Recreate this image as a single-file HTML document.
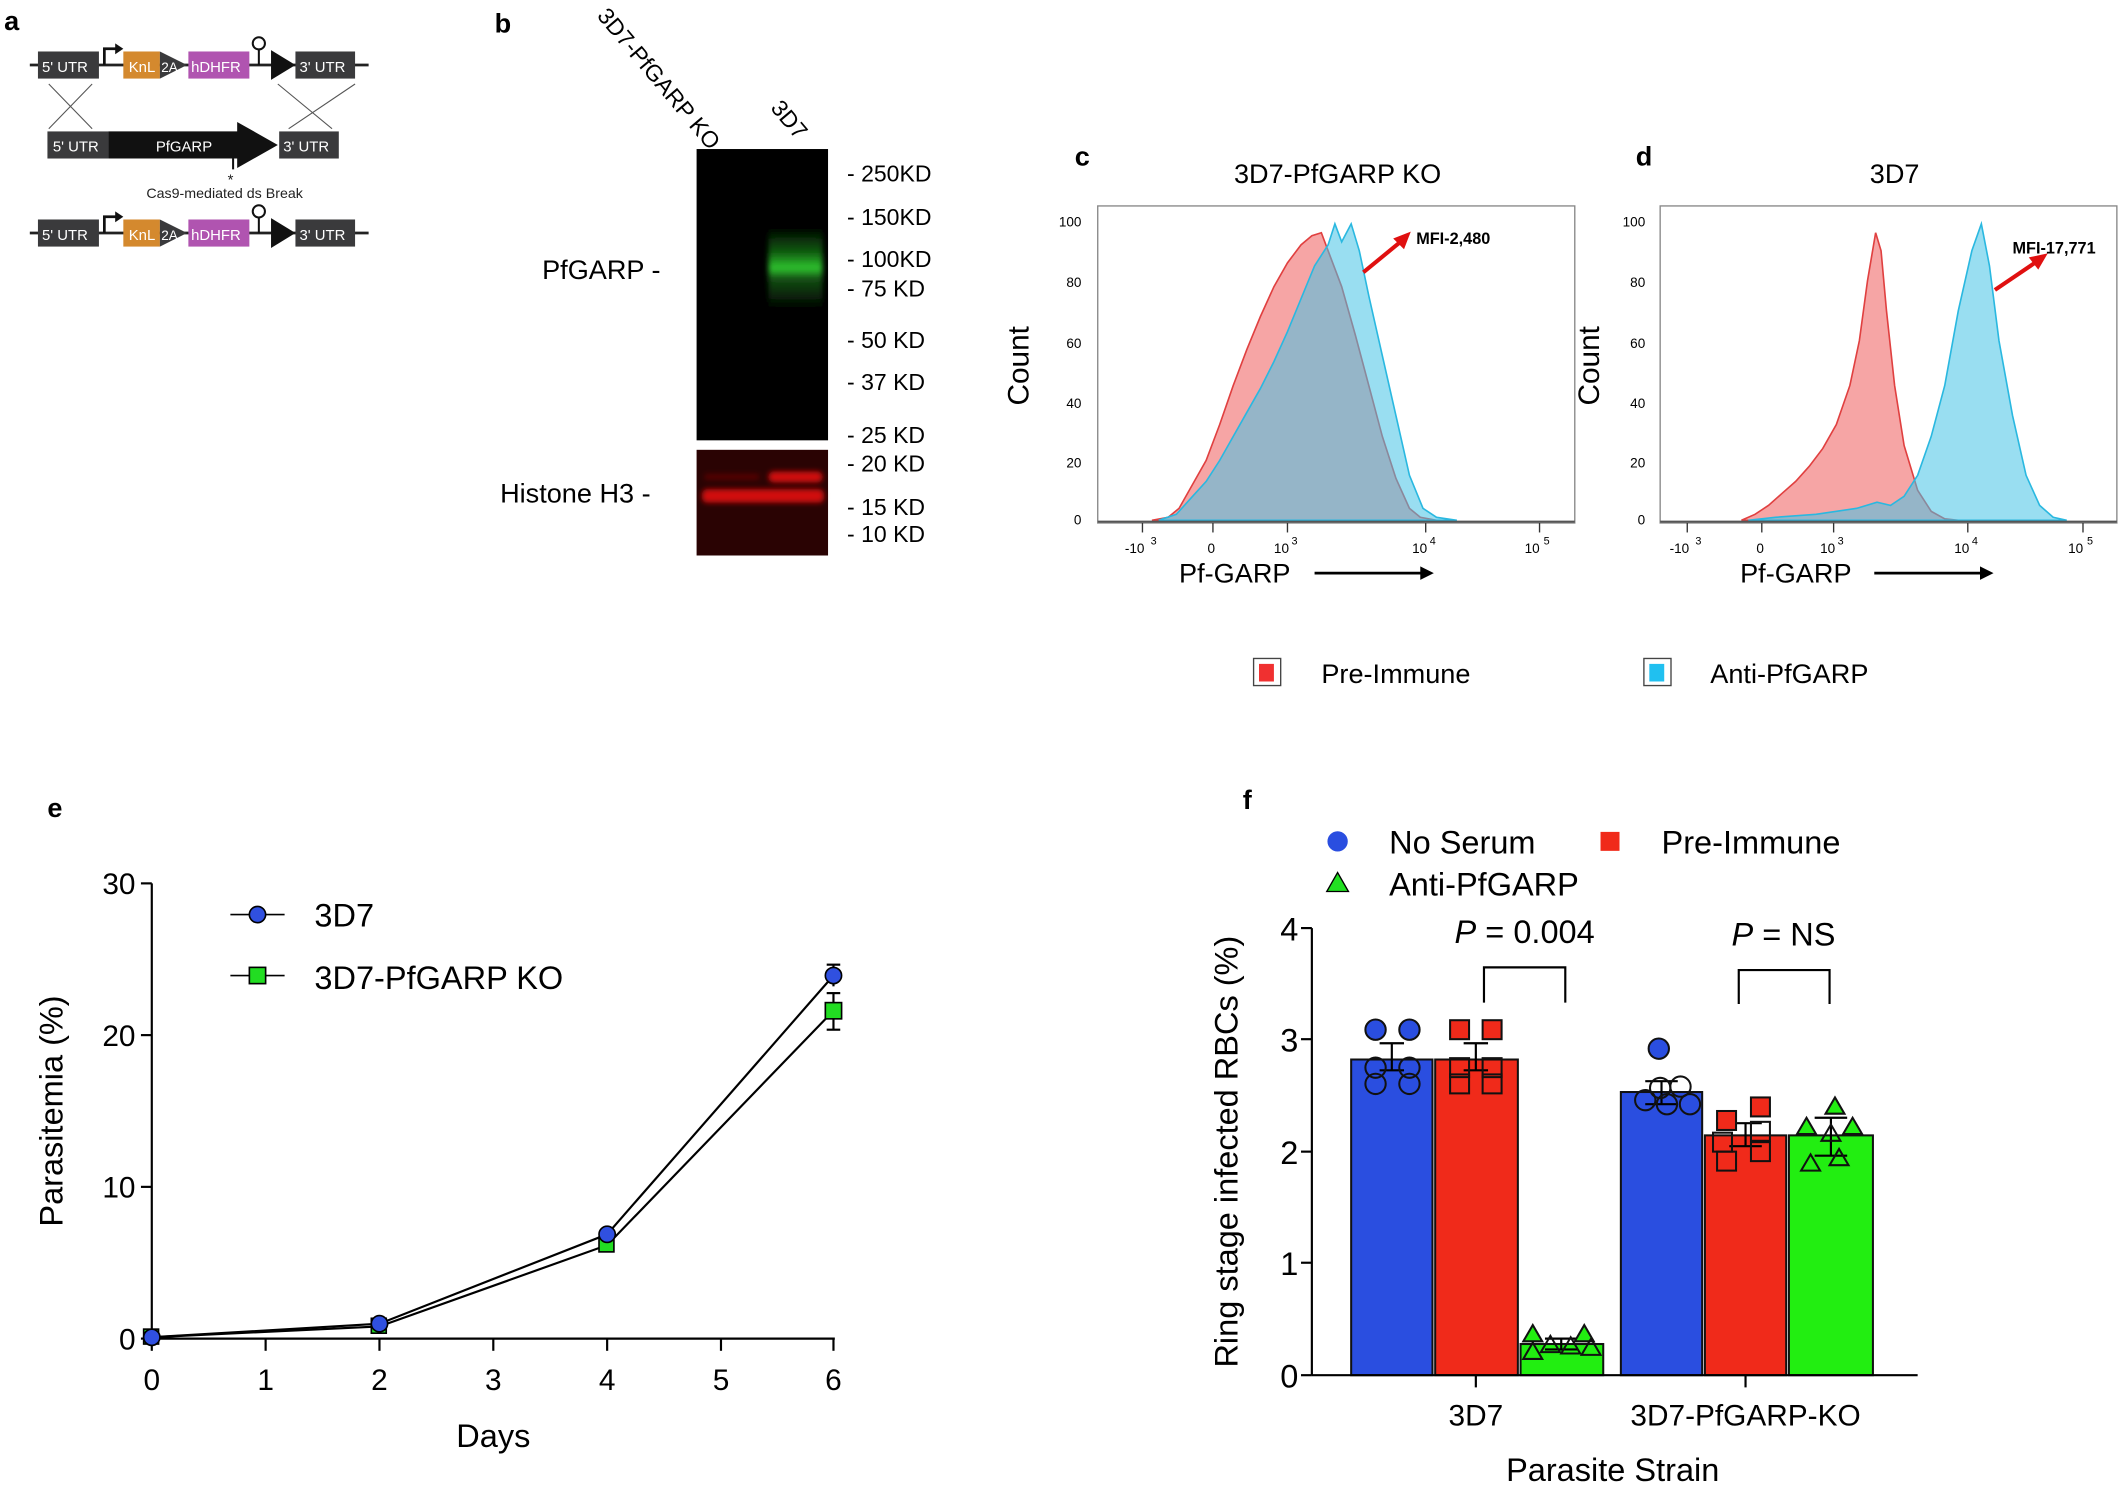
<!DOCTYPE html>
<html><head><meta charset="utf-8"><style>html,body{margin:0;padding:0;background:#fff}svg{display:block}text{font-family:"Liberation Sans",Arial,sans-serif}</style></head><body>
<svg width="2125" height="1489" viewBox="0 0 1568 1099" preserveAspectRatio="none" xmlns="http://www.w3.org/2000/svg">
<defs><filter id="bl" x="-20%" y="-50%" width="140%" height="200%"><feGaussianBlur stdDeviation="2"/></filter>
<linearGradient id="gb" x1="0" y1="0" x2="0" y2="1"><stop offset="0" stop-color="#000"/><stop offset="0.3" stop-color="#0f5a0f"/><stop offset="0.5" stop-color="#2fc42f"/><stop offset="0.62" stop-color="#145014"/><stop offset="1" stop-color="#000"/></linearGradient></defs>
<rect width="1568" height="1099" fill="#fff"/>
<text x="3" y="22" font-size="20" font-weight="bold">a</text>
<g font-size="11" fill="#fff">
<line x1="22" y1="48" x2="272" y2="48" stroke="#222" stroke-width="2"/>
<rect x="28" y="38" width="45" height="20" fill="#3a3a3c"/><text x="31" y="53">5' UTR</text>
<path d="M77 48 V36 H86" stroke="#111" stroke-width="2" fill="none"/><path d="M85 32 L91 36 L85 40Z" fill="#111"/>
<rect x="91" y="38" width="27" height="20" fill="#d4892e"/><text x="95" y="53">KnL</text>
<path d="M118 38 L138 48 L118 58Z" fill="#3a3a3c"/><text x="119" y="53" font-size="10">2A</text>
<rect x="139" y="38" width="45" height="20" fill="#b054b0"/><text x="141" y="53">hDHFR</text>
<line x1="191" y1="48" x2="191" y2="36" stroke="#111" stroke-width="1.5"/><circle cx="191" cy="32" r="4.5" fill="#fff" stroke="#111" stroke-width="1.5"/>
<path d="M200 37 L218 48 L200 59Z" fill="#111"/>
<rect x="218" y="38" width="44" height="20" fill="#3a3a3c"/><text x="221" y="53">3' UTR</text>
<g stroke="#555" stroke-width="0.8"><line x1="36" y1="62" x2="68" y2="95"/><line x1="68" y1="62" x2="36" y2="95"/><line x1="205" y1="62" x2="245" y2="95"/><line x1="262" y1="62" x2="213" y2="95"/></g>
<rect x="35" y="97" width="45" height="20" fill="#3a3a3c"/><text x="39" y="112">5' UTR</text>
<path d="M80 97 H175 V90 L205 107 L175 124 V117 H80Z" fill="#111"/><text x="115" y="112">PfGARP</text>
<rect x="206" y="97" width="44" height="20" fill="#3a3a3c"/><text x="209" y="112">3' UTR</text>
<line x1="172" y1="117" x2="172" y2="125" stroke="#111" stroke-width="1.5"/>
<text x="168" y="136" font-size="11" fill="#222">*</text><text x="108" y="146" font-size="10.5" fill="#222">Cas9-mediated ds Break</text>
<line x1="22" y1="172" x2="272" y2="172" stroke="#222" stroke-width="2"/>
<rect x="28" y="162" width="45" height="20" fill="#3a3a3c"/><text x="31" y="177">5' UTR</text>
<path d="M77 172 V160 H86" stroke="#111" stroke-width="2" fill="none"/><path d="M85 156 L91 160 L85 164Z" fill="#111"/>
<rect x="91" y="162" width="27" height="20" fill="#d4892e"/><text x="95" y="177">KnL</text>
<path d="M118 162 L138 172 L118 182Z" fill="#3a3a3c"/><text x="119" y="177" font-size="10">2A</text>
<rect x="139" y="162" width="45" height="20" fill="#b054b0"/><text x="141" y="177">hDHFR</text>
<line x1="191" y1="172" x2="191" y2="160" stroke="#111" stroke-width="1.5"/><circle cx="191" cy="156" r="4.5" fill="#fff" stroke="#111" stroke-width="1.5"/>
<path d="M200 161 L218 172 L200 183Z" fill="#111"/>
<rect x="218" y="162" width="44" height="20" fill="#3a3a3c"/><text x="221" y="177">3' UTR</text>
</g>
<text x="365" y="24" font-size="20" font-weight="bold">b</text>
<text transform="translate(440,12) rotate(50)" font-size="17">3D7-PfGARP KO</text>
<text transform="translate(568,80) rotate(50)" font-size="17">3D7</text>
<rect x="514" y="110" width="97" height="215" fill="#000"/>
<rect x="567" y="168" width="40" height="60" fill="url(#gb)" filter="url(#bl)"/>
<rect x="514" y="332" width="97" height="78" fill="#2a0303"/>
<g filter="url(#bl)"><rect x="518" y="361" width="90" height="10" rx="4" fill="#d01010"/>
<rect x="567" y="348" width="40" height="8" rx="4" fill="#d01010"/>
<rect x="520" y="350" width="40" height="4" fill="#5a0505"/></g>
<g font-size="17"><text x="625" y="134">- 250KD</text><text x="625" y="166">- 150KD</text><text x="625" y="197">- 100KD</text><text x="625" y="219">- 75 KD</text><text x="625" y="257">- 50 KD</text><text x="625" y="288">- 37 KD</text><text x="625" y="327">- 25 KD</text><text x="625" y="348">- 20 KD</text><text x="625" y="380">- 15 KD</text><text x="625" y="400">- 10 KD</text></g>
<text x="400" y="206" font-size="20">PfGARP -</text>
<text x="369" y="371" font-size="20">Histone H3 -</text>
<text x="793" y="122" font-size="20" font-weight="bold">c</text>
<text x="987" y="135" font-size="20" text-anchor="middle">3D7-PfGARP KO</text>
<rect x="810" y="152" width="352" height="234" fill="none" stroke="#888" stroke-width="1"/>
<g font-size="10">
<text x="798" y="167" text-anchor="end">100</text><text x="798" y="212" text-anchor="end">80</text><text x="798" y="257" text-anchor="end">60</text><text x="798" y="301" text-anchor="end">40</text><text x="798" y="345" text-anchor="end">20</text><text x="798" y="387" text-anchor="end">0</text>
</g>
<path d="M850,384 L862,381.8 L870,375.2 L880,357.5 L890,339.8 L900,313.3 L910,284.5 L920,258 L930,233.7 L940,211.6 L950,194 L960,180.7 L968,174 L975,171.8 L980,185.1 L990,211.6 L1000,247 L1010,284.5 L1020,322.1 L1030,353 L1040,375.2 L1048,381.8 L1060,384Z" fill="#f6a5a5" stroke="#e04040" stroke-width="1.2"/>
<path d="M855,384 L868,379.6 L880,366.3 L890,355.3 L900,339.8 L910,322.1 L920,304.4 L930,286.8 L940,266.9 L950,244.8 L960,220.5 L970,196.2 L980,180.7 L985,165.2 L990,178.5 L997,165.2 L1003,185.1 L1010,218.3 L1020,262.5 L1030,306.6 L1040,350.8 L1050,375.2 L1060,381.8 L1075,384Z" fill="rgba(70,195,230,0.55)" stroke="#2ab8e0" stroke-width="1.2"/>
<line x1="810" y1="385" x2="1162" y2="385" stroke="#555" stroke-width="1.5"/>
<g stroke="#333" stroke-width="1"><line x1="843" y1="386" x2="843" y2="393"/><line x1="895" y1="386" x2="895" y2="393"/><line x1="950" y1="386" x2="950" y2="393"/><line x1="1052" y1="386" x2="1052" y2="393"/><line x1="1136" y1="386" x2="1136" y2="393"/></g>
<g font-size="10"><text x="830" y="408">-10</text><text x="849" y="402" font-size="8">3</text><text x="891" y="408">0</text><text x="940" y="408">10</text><text x="953" y="402" font-size="8">3</text><text x="1042" y="408">10</text><text x="1055" y="402" font-size="8">4</text><text x="1125" y="408">10</text><text x="1139" y="402" font-size="8">5</text></g>
<text transform="translate(759,270) rotate(-90)" font-size="22" text-anchor="middle">Count</text>
<text x="870" y="430" font-size="20">Pf-GARP</text>
<line x1="970" y1="423" x2="1050" y2="423" stroke="#000" stroke-width="2"/><path d="M1048 418 L1058 423 L1048 428Z"/>
<text x="1045" y="180" font-size="12" font-weight="bold">MFI-2,480</text>
<line x1="1006" y1="201" x2="1034" y2="178" stroke="#e01010" stroke-width="3"/><path d="M1041 171 L1028 176 L1036 184Z" fill="#e01010"/>
<text x="1207" y="122" font-size="20" font-weight="bold">d</text>
<text x="1398" y="135" font-size="20" text-anchor="middle">3D7</text>
<rect x="1225" y="152" width="337" height="234" fill="none" stroke="#888" stroke-width="1"/>
<g font-size="10"><text x="1214" y="167" text-anchor="end">100</text><text x="1214" y="212" text-anchor="end">80</text><text x="1214" y="257" text-anchor="end">60</text><text x="1214" y="301" text-anchor="end">40</text><text x="1214" y="345" text-anchor="end">20</text><text x="1214" y="387" text-anchor="end">0</text></g>
<path d="M1285,384 L1295,379.6 L1305,373 L1315,364.1 L1325,355.3 L1335,344.2 L1345,331 L1355,313.3 L1365,284.5 L1372,251.4 L1378,207.2 L1384,171.8 L1388,185.1 L1392,229.3 L1398,284.5 L1405,328.8 L1415,361.9 L1425,377.4 L1435,382.9 L1445,384Z" fill="#f6a5a5" stroke="#e04040" stroke-width="1.2"/>
<path d="M1290,384 L1310,381.8 L1340,379.6 L1370,375.2 L1385,370.7 L1395,373 L1405,366.3 L1415,350.8 L1425,322.1 L1435,284.5 L1445,229.3 L1455,185.1 L1462,165.2 L1468,196.2 L1475,251.4 L1485,306.6 L1495,350.8 L1505,373 L1515,381.8 L1525,384Z" fill="rgba(70,195,230,0.55)" stroke="#2ab8e0" stroke-width="1.2"/>
<line x1="1225" y1="385" x2="1562" y2="385" stroke="#555" stroke-width="1.5"/>
<g stroke="#333" stroke-width="1"><line x1="1245" y1="386" x2="1245" y2="393"/><line x1="1300" y1="386" x2="1300" y2="393"/><line x1="1353" y1="386" x2="1353" y2="393"/><line x1="1452" y1="386" x2="1452" y2="393"/><line x1="1537" y1="386" x2="1537" y2="393"/></g>
<g font-size="10"><text x="1232" y="408">-10</text><text x="1251" y="402" font-size="8">3</text><text x="1296" y="408">0</text><text x="1343" y="408">10</text><text x="1356" y="402" font-size="8">3</text><text x="1442" y="408">10</text><text x="1455" y="402" font-size="8">4</text><text x="1526" y="408">10</text><text x="1540" y="402" font-size="8">5</text></g>
<text transform="translate(1180,270) rotate(-90)" font-size="22" text-anchor="middle">Count</text>
<text x="1284" y="430" font-size="20">Pf-GARP</text>
<line x1="1383" y1="423" x2="1463" y2="423" stroke="#000" stroke-width="2"/><path d="M1461 418 L1471 423 L1461 428Z"/>
<text x="1485" y="187" font-size="12" font-weight="bold">MFI-17,771</text>
<line x1="1472" y1="214" x2="1503" y2="193" stroke="#e01010" stroke-width="3"/><path d="M1511 187 L1497 190 L1504 199Z" fill="#e01010"/>
<rect x="925" y="486" width="20" height="20" fill="none" stroke="#444"/><rect x="929" y="490" width="11" height="13" fill="#f03030"/>
<text x="975" y="504" font-size="20">Pre-Immune</text>
<rect x="1213" y="486" width="20" height="20" fill="none" stroke="#444"/><rect x="1217" y="490" width="11" height="13" fill="#20c0f0"/>
<text x="1262" y="504" font-size="20">Anti-PfGARP</text>
<text x="35" y="603" font-size="20" font-weight="bold">e</text>
<g stroke="#000" stroke-width="1.6" fill="none">
<line x1="112" y1="652" x2="112" y2="988"/><line x1="112" y1="988" x2="616" y2="988"/>
<line x1="104" y1="652" x2="112" y2="652"/><line x1="104" y1="764" x2="112" y2="764"/><line x1="104" y1="876" x2="112" y2="876"/><line x1="104" y1="988" x2="112" y2="988"/>
<line x1="112" y1="988" x2="112" y2="997"/><line x1="196" y1="988" x2="196" y2="997"/><line x1="280" y1="988" x2="280" y2="997"/><line x1="364" y1="988" x2="364" y2="997"/><line x1="448" y1="988" x2="448" y2="997"/><line x1="532" y1="988" x2="532" y2="997"/><line x1="615" y1="988" x2="615" y2="997"/>
<polyline points="112,987 280,977 448,911 615,720"/>
<polyline points="112,987 280,979 448,919 615,746"/>
<line x1="615" y1="712" x2="615" y2="728"/><line x1="610" y1="712" x2="620" y2="712"/>
<line x1="615" y1="733" x2="615" y2="760"/><line x1="610" y1="733" x2="620" y2="733"/><line x1="610" y1="760" x2="620" y2="760"/>
</g>
<g stroke="#000" stroke-width="1.2">
<rect x="106" y="981" width="11" height="11" fill="#22dd22"/><rect x="274" y="973" width="11" height="11" fill="#22dd22"/><rect x="442" y="913" width="11" height="11" fill="#22dd22"/><rect x="609" y="740" width="12" height="12" fill="#22dd22"/>
<circle cx="112" cy="987" r="6" fill="#3050e0"/><circle cx="280" cy="977" r="6" fill="#3050e0"/><circle cx="448" cy="911" r="6" fill="#3050e0"/><circle cx="615" cy="720" r="6" fill="#3050e0"/>
<line x1="170" y1="675" x2="210" y2="675"/><circle cx="190" cy="675" r="6" fill="#3050e0"/>
<line x1="170" y1="720" x2="210" y2="720"/><rect x="184" y="714" width="12" height="12" fill="#22dd22"/>
</g>
<text x="232" y="684" font-size="24">3D7</text>
<text x="232" y="730" font-size="24">3D7-PfGARP KO</text>
<g font-size="22" text-anchor="end"><text x="100" y="660">30</text><text x="100" y="772">20</text><text x="100" y="884">10</text><text x="100" y="996">0</text></g>
<g font-size="22" text-anchor="middle"><text x="112" y="1026">0</text><text x="196" y="1026">1</text><text x="280" y="1026">2</text><text x="364" y="1026">3</text><text x="448" y="1026">4</text><text x="532" y="1026">5</text><text x="615" y="1026">6</text></g>
<text x="364" y="1068" font-size="24" text-anchor="middle">Days</text>
<text transform="translate(46,820) rotate(-90)" font-size="24" text-anchor="middle">Parasitemia (%)</text>
<text x="917" y="597" font-size="20" font-weight="bold">f</text>
<circle cx="987" cy="621" r="7.5" fill="#2a4ee0"/><text x="1025" y="630" font-size="24">No Serum</text>
<rect x="1181" y="614" width="14" height="14" fill="#f02a1a"/><text x="1226" y="630" font-size="24">Pre-Immune</text>
<path d="M987 644 L995 658 L979 658Z" fill="#22e022" stroke="#000"/><text x="1025" y="661" font-size="24">Anti-PfGARP</text>
<g stroke="#111" stroke-width="1.5">
<rect x="997" y="782" width="60" height="233" fill="#2a4ee0"/><rect x="1059" y="782" width="61" height="233" fill="#f02a1a"/><rect x="1122" y="992" width="61" height="23" fill="#22ee11"/>
<rect x="1196" y="806" width="60" height="209" fill="#2a4ee0"/><rect x="1258" y="838" width="60" height="177" fill="#f02a1a"/><rect x="1320" y="838" width="62" height="177" fill="#22ee11"/>
</g>
<g stroke="#000" stroke-width="1.6" fill="none">
<line x1="968" y1="685" x2="968" y2="1015"/><line x1="968" y1="1015" x2="1415" y2="1015"/>
<line x1="960" y1="685" x2="968" y2="685"/><line x1="960" y1="767" x2="968" y2="767"/><line x1="960" y1="850" x2="968" y2="850"/><line x1="960" y1="932" x2="968" y2="932"/><line x1="960" y1="1015" x2="968" y2="1015"/>
<line x1="1089" y1="1015" x2="1089" y2="1024"/><line x1="1288" y1="1015" x2="1288" y2="1024"/>
<polyline points="1095,740 1095,714 1155,714 1155,740"/><polyline points="1283,741 1283,716 1350,716 1350,741"/>
<line x1="1027" y1="770" x2="1027" y2="790"/><line x1="1018" y1="770" x2="1036" y2="770"/><line x1="1018" y1="790" x2="1036" y2="790"/>
<line x1="1089" y1="770" x2="1089" y2="790"/><line x1="1080" y1="770" x2="1098" y2="770"/><line x1="1080" y1="790" x2="1098" y2="790"/>
<line x1="1152" y1="988" x2="1152" y2="996"/><line x1="1140" y1="988" x2="1164" y2="988"/><line x1="1140" y1="996" x2="1164" y2="996"/>
<line x1="1226" y1="798" x2="1226" y2="815"/><line x1="1214" y1="798" x2="1238" y2="798"/><line x1="1214" y1="815" x2="1238" y2="815"/>
<line x1="1288" y1="829" x2="1288" y2="846"/><line x1="1276" y1="829" x2="1300" y2="829"/><line x1="1276" y1="846" x2="1300" y2="846"/>
<line x1="1351" y1="825" x2="1351" y2="853"/><line x1="1339" y1="825" x2="1363" y2="825"/><line x1="1339" y1="853" x2="1363" y2="853"/>
</g>
<g stroke="#111" stroke-width="1.5">
<g fill="#2a4ee0"><circle cx="1015" cy="760" r="7.5"/><circle cx="1040" cy="760" r="7.5"/></g>
<g fill="none"><circle cx="1015" cy="788" r="7.5"/><circle cx="1040" cy="788" r="7.5"/><circle cx="1015" cy="800" r="7.5"/><circle cx="1040" cy="800" r="7.5"/></g>
<g fill="#f02a1a"><rect x="1070" y="753" width="14" height="14"/><rect x="1094" y="753" width="14" height="14"/></g>
<g fill="none"><rect x="1070" y="781" width="14" height="14"/><rect x="1094" y="781" width="14" height="14"/><rect x="1070" y="793" width="14" height="14"/><rect x="1094" y="793" width="14" height="14"/></g>
<g fill="#22ee11"><path d="M1131 978 L1138 990 L1124 990Z"/><path d="M1169 978 L1176 990 L1162 990Z"/></g>
<g fill="none"><path d="M1131 991 L1138 1003 L1124 1003Z"/><path d="M1144 986 L1151 998 L1137 998Z"/><path d="M1159 987 L1166 999 L1152 999Z"/><path d="M1174 988 L1181 1000 L1167 1000Z"/></g>
<circle cx="1224" cy="774" r="7.5" fill="#2a4ee0"/>
<g fill="none"><circle cx="1214" cy="812" r="7.5"/><circle cx="1225" cy="803" r="7.5"/><circle cx="1240" cy="802" r="7.5"/><circle cx="1247" cy="815" r="7.5"/><circle cx="1230" cy="815" r="7.5"/></g>
<g fill="#f02a1a"><rect x="1267" y="820" width="14" height="14"/><rect x="1292" y="810" width="14" height="14"/></g>
<g fill="none"><rect x="1264" y="836" width="14" height="14"/><rect x="1292" y="828" width="14" height="14"/><rect x="1267" y="850" width="14" height="14"/><rect x="1292" y="843" width="14" height="14"/></g>
<g fill="#22ee11"><path d="M1333 825 L1340 837 L1326 837Z"/><path d="M1354 810 L1361 822 L1347 822Z"/><path d="M1367 825 L1374 837 L1360 837Z"/></g>
<g fill="none"><path d="M1351 830 L1358 842 L1344 842Z"/><path d="M1336 852 L1343 864 L1329 864Z"/><path d="M1357 848 L1364 860 L1350 860Z"/></g>
</g>
<g font-size="24" text-anchor="end"><text x="958" y="694">4</text><text x="958" y="776">3</text><text x="958" y="859">2</text><text x="958" y="941">1</text><text x="958" y="1024">0</text></g>
<text x="1125" y="696" font-size="24" text-anchor="middle"><tspan font-style="italic">P</tspan> = 0.004</text>
<text x="1316" y="698" font-size="24" text-anchor="middle"><tspan font-style="italic">P</tspan> = NS</text>
<text x="1089" y="1052" font-size="22" text-anchor="middle">3D7</text>
<text x="1288" y="1052" font-size="22" text-anchor="middle">3D7-PfGARP-KO</text>
<text x="1190" y="1093" font-size="24" text-anchor="middle">Parasite Strain</text>
<text transform="translate(913,850) rotate(-90)" font-size="24" text-anchor="middle">Ring stage infected RBCs (%)</text>
</svg>
</body></html>
